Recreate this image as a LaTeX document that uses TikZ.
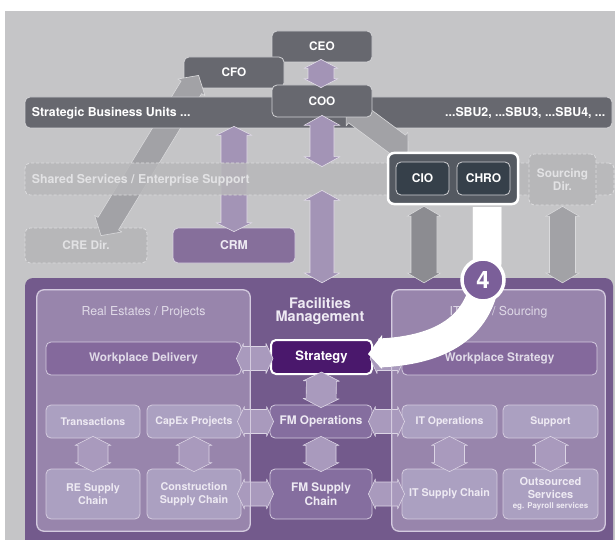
\documentclass[tikz,border=0pt]{standalone}
\usepackage{fontspec}
\setsansfont{TeX Gyre Heros}
\usetikzlibrary{calc}
\definecolor{bggrey}{HTML}{C5C5C7}
\definecolor{dkgrey}{HTML}{67686F}
\definecolor{dkline}{HTML}{D2D2D5}
\definecolor{ssfill}{HTML}{B7B7B9}
\definecolor{ssline}{HTML}{DDDDDF}
\definecolor{sstext}{HTML}{E2E2E4}
\definecolor{crmfill}{HTML}{866F9B}
\definecolor{crmline}{HTML}{D8D1E0}
\definecolor{purp}{HTML}{735A8C}
\definecolor{panel}{HTML}{9885AC}
\definecolor{panelline}{HTML}{D4CBDF}
\definecolor{wpfill}{HTML}{84699C}
\definecolor{smallfill}{HTML}{ABA0C1}
\definecolor{fmfill}{HTML}{856E9F}
\definecolor{stratfill}{HTML}{4A186C}
\definecolor{parr}{HTML}{A99ABD}
\definecolor{parrline}{HTML}{DCD5E5}
\definecolor{tarr}{HTML}{A394B6}
\definecolor{tarrline}{HTML}{E2DDE8}
\definecolor{garr}{HTML}{A2A2A6}
\definecolor{garrdk}{HTML}{8C8C91}
\definecolor{garrline}{HTML}{DADADC}
\definecolor{ciobg}{HTML}{545961}
\definecolor{ciofill}{HTML}{36404A}
\definecolor{circfill}{HTML}{7B5F99}
\definecolor{lighttext}{HTML}{EEEAF3}
\definecolor{paneltext}{HTML}{E0DAE8}

\newcommand\dblarr[6]{%
  \coordinate (dA) at #2; \coordinate (dB) at #3;
  \coordinate (dA1) at ($(dA)!#6!(dB)$);
  \coordinate (dB1) at ($(dB)!#6!(dA)$);
  \path[#1] (dA) -- ($(dA1)!#5!90:(dB)$) -- ($(dA1)!#4!90:(dB)$)
    -- ($(dB1)!#4!-90:(dA)$) -- ($(dB1)!#5!-90:(dA)$) -- (dB)
    -- ($(dB1)!#5!90:(dA)$) -- ($(dB1)!#4!90:(dA)$)
    -- ($(dA1)!#4!-90:(dB)$) -- ($(dA1)!#5!-90:(dB)$) -- cycle;}

\tikzset{
  box/.style={rounded corners=5pt, inner sep=0pt, align=center,
    font=\sffamily\bfseries\fontsize{11.8}{13.5}\selectfont},
  dkbox/.style={box, fill=dkgrey, draw=dkline, line width=0.8pt, text=white},
  dashbox/.style={box, fill=ssfill, draw=ssline, line width=0.8pt,
    dash pattern=on 3pt off 2pt, text=sstext},
  crmbox/.style={box, fill=crmfill, draw=crmline, line width=0.8pt, text=lighttext,
    font=\sffamily\bfseries\fontsize{12.2}{13.5}\selectfont},
  area/.style={fill=purp, rounded corners=8pt, inner sep=0pt},
  panelbox/.style={fill=panel, draw=panelline, line width=0.8pt, rounded corners=7pt, inner sep=0pt},
  ptitle/.style={inner sep=0pt, text=paneltext, font=\sffamily\fontsize{12.3}{14}\selectfont},
  wpbox/.style={box, fill=wpfill, draw=panelline, line width=0.8pt, text=paneltext},
  smallbox/.style={box, fill=smallfill, draw=panelline, line width=0.8pt, text=lighttext,
    font=\sffamily\bfseries\fontsize{10.5}{12.5}\selectfont},
  tallbox/.style={smallbox, font=\sffamily\bfseries\fontsize{10.7}{12.6}\selectfont},
  fmbox/.style={box, fill=fmfill, draw=panelline, line width=0.8pt, text=lighttext},
  stratbox/.style={box, fill=stratfill, draw=white, line width=2pt, text=white,
    font=\sffamily\bfseries\fontsize{13}{14}\selectfont},
  ciocont/.style={rounded corners=6pt, fill=ciobg, draw=white, line width=2.5pt, inner sep=0pt},
  ciobox/.style={box, fill=ciofill, draw=dkline, line width=0.8pt, text=white,
    font=\sffamily\bfseries\fontsize{12}{13.5}\selectfont},
  tarrow/.style={fill=tarr, draw=tarrline, line width=0.6pt, line join=round},
  parrow/.style={fill=parr, draw=parrline, line width=0.6pt, line join=round},
  garrow/.style={fill=garr, draw=garrline, line width=0.6pt, line join=round},
  garrowdk/.style={fill=garrdk, draw=garrline, line width=0.6pt, line join=round},
  lbl/.style={inner sep=0pt, font=\sffamily\bfseries\fontsize{12.3}{14}\selectfont}
}

\begin{document}
\begin{tikzpicture}[x=1pt,y=-1pt]
\useasboundingbox (0,0) rectangle (615,540);
\clip (0,0) rectangle (615,540);
\fill[white] (0,0) rectangle (615,540);
\fill[bggrey] (5,11) rectangle (615,540);

% ---- big purple FM area
\node[area, minimum width=588pt, minimum height=280pt] (org) at (319,418) {};

% ---- top executive boxes
\node[dkbox, minimum width=100pt, minimum height=31pt] (ceo) at (322,46.5) {CEO};
\node[dkbox, minimum width=100pt, minimum height=31pt] (cfo) at (234,72.5) {CFO};

% CRE Dir
\node[dashbox, minimum width=122pt, minimum height=35pt] (cre) at (86,245.5) {CRE Dir.};

% CFO <-> CRE diagonal
\dblarr{garrow}{($(cfo.south west)+(15,-13)$)}{($(cre.north)+(15,8)$)}{12pt}{16pt}{14pt}

% SBU bar
\node[dkbox, minimum width=587pt, minimum height=31pt] (sbu) at (318.5,112.5) {};
\node[lbl, text=white, anchor=west] (sbul) at ($(sbu.west)+(7,1)$) {Strategic Business Units ...};
\node[lbl, text=white, anchor=east] (sbur) at ($(sbu.east)+(-7,1)$) {...SBU2, ...SBU3, ...SBU4, ...};

% CIO container corner (arrow target)
\coordinate (ciotl) at (388,153);

% COO <-> CIO diagonal
\dblarr{garrow}{(346,106)}{($(ciotl)+(20,-1)$)}{12pt}{16pt}{12pt}

\node[dkbox, minimum width=100pt, minimum height=32pt] (coo) at (322,101) {COO};

% CEO <-> COO
\dblarr{tarrow}{($(ceo.south)+(-1,-3)$)}{($(coo.north)+(-1,3)$)}{13pt}{17pt}{9pt}

% CRM
\node[crmbox, minimum width=122pt, minimum height=35pt] (crm) at (234,245.5) {CRM};

% CRM arrow (under the translucent shared-services bar)
\dblarr{tarrow}{($(crm.north |- sbu.south)+(0,-2)$)}{($(crm.north)+(0,4)$)}{13pt}{18pt}{9pt}

% Shared services bar
\node[dashbox, fill opacity=0.85, minimum width=589pt, minimum height=32pt] (ss) at (319.5,179) {};
\node[lbl, text=sstext, anchor=west] (sst) at ($(ss.west)+(7,1)$) {Shared Services / Enterprise Support};

% COO <-> Shared, Shared <-> FM
\dblarr{tarrow}{($(coo.south)+(0,-2)$)}{($(coo.south |- ss.north)+(0,4)$)}{12pt}{18pt}{10pt}
\dblarr{tarrow}{($(coo.south |- ss.south)+(0,-5)$)}{($(coo.south |- org.north)+(0,5)$)}{12pt}{18pt}{10pt}

% CIO / CHRO
\node[ciocont, minimum width=130pt, minimum height=51pt] (cbox) at (453,178.5) {};
\node[ciobox, minimum width=53pt, minimum height=33pt] (cio) at (422.5,178.5) {CIO};
\node[ciobox, minimum width=53pt, minimum height=33pt] (chro) at (483.5,178.5) {CHRO};

% Sourcing Dir
\node[dashbox, minimum width=67pt, minimum height=51pt] (src) at (562.5,179.5) {Sourcing\\Dir.};

% grey arrows down
\dblarr{garrowdk}{($(cio.south |- cbox.south)+(1.5,1)$)}{($(cio.south |- org.north)+(1.5,5)$)}{13pt}{17pt}{10pt}
\dblarr{garrow}{($(src.south)+(0,1)$)}{($(src.south |- org.north)+(0,5)$)}{13pt}{17pt}{10pt}

% ---- inside FM area
\node[panelbox, minimum width=213pt, minimum height=241pt] (lp) at (143.5,410.5) {};
\node[panelbox, minimum width=213pt, minimum height=241pt] (rp) at (498.5,410.5) {};
\node[ptitle] (lpt) at (143.5,312) {Real Estates / Projects};
\node[ptitle] (rpt) at (498.5,312) {IT / HR / Sourcing};
\node[lbl, text=lighttext, align=center, font=\sffamily\bfseries\fontsize{14.5}{13}\selectfont] (fmt) at (320,311) {Facilities\\Management};

\node[wpbox, minimum width=195pt, minimum height=33pt] (wd) at (143.5,358.5) {Workplace Delivery};
\node[stratbox, minimum width=101pt, minimum height=34pt] (strat) at (321.5,357) {Strategy};
\node[wpbox, minimum width=195pt, minimum height=33pt] (ws) at (499.5,358.5) {Workplace Strategy};

\node[smallbox, minimum width=94pt, minimum height=33pt] (trans) at (93,421.5) {Transactions};
\node[smallbox, minimum width=94pt, minimum height=33pt] (capex) at (194,421.5) {CapEx Projects};
\node[fmbox, minimum width=102pt, minimum height=33pt] (fmops) at (321,421.5) {FM Operations};
\node[smallbox, minimum width=95pt, minimum height=33pt] (itops) at (449.5,421.5) {IT Operations};
\node[smallbox, minimum width=95pt, minimum height=33pt] (sup) at (550.5,421.5) {Support};

\node[tallbox, minimum width=94pt, minimum height=50pt] (resc) at (93,494) {RE Supply\\Chain};
\node[tallbox, minimum width=94pt, minimum height=50pt] (csc) at (194,494) {Construction\\Supply Chain};
\node[fmbox, minimum width=102pt, minimum height=50pt] (fmsc) at (321,494) {FM Supply\\Chain};
\node[tallbox, minimum width=95pt, minimum height=50pt] (itsc) at (449.5,494) {IT Supply Chain};
\node[tallbox, minimum width=95pt, minimum height=50pt, font=\sffamily\bfseries\fontsize{11}{12.5}\selectfont] (outs) at (550.5,494) {Outsourced\\Services\\[-2pt]{\fontsize{8}{9}\selectfont eg. Payroll services}};

% horizontal arrows
\dblarr{parrow}{($(wd.east)+(-5,0)$)}{($(wd.east -| strat.west)+(3,0)$)}{12pt}{15pt}{7pt}
\dblarr{parrow}{($(ws.west -| strat.east)+(-3,0)$)}{($(ws.west)+(3,0)$)}{12pt}{15pt}{7pt}
\dblarr{parrow}{($(capex.east)+(-4,0)$)}{($(fmops.west)+(4,0)$)}{12pt}{15pt}{7pt}
\dblarr{parrow}{($(fmops.east)+(-4,0)$)}{($(itops.west)+(3,0)$)}{12pt}{15pt}{7pt}
\dblarr{parrow}{($(csc.east)+(-4,0)$)}{($(fmsc.west)+(4,0)$)}{12pt}{15pt}{7pt}
\dblarr{parrow}{($(fmsc.east)+(-4,0)$)}{($(itsc.west)+(3,0)$)}{12pt}{15pt}{7pt}
% vertical arrows
\dblarr{parrow}{($(strat.south)+(0,-3)$)}{($(fmops.north)+(0,3)$)}{15pt}{18pt}{9pt}
\dblarr{parrow}{($(trans.south)+(0,-2)$)}{($(resc.north)+(0,3)$)}{15pt}{18pt}{9pt}
\dblarr{parrow}{($(capex.south)+(0,-2)$)}{($(csc.north)+(0,3)$)}{15pt}{18pt}{9pt}
\dblarr{parrow}{($(fmops.south)+(0,-2)$)}{($(fmsc.north)+(0,3)$)}{15pt}{18pt}{9pt}
\dblarr{parrow}{($(itops.south)+(0,-2)$)}{($(itsc.north)+(0,3)$)}{15pt}{18pt}{9pt}
\dblarr{parrow}{($(sup.south)+(0,-2)$)}{($(outs.north)+(0,3)$)}{15pt}{18pt}{9pt}

% panel borders on top of arrows
\draw[panelline, line width=0.8pt, rounded corners=7pt] (lp.north west) rectangle (lp.south east);
\draw[panelline, line width=0.8pt, rounded corners=7pt] (rp.north west) rectangle (rp.south east);

% ---- white callout arrow from CHRO to Strategy
\coordinate (bs) at ($(chro.south |- cbox.south)+(3.5,1.5)$);
\coordinate (be) at ($(strat.east)+(6,-4)$);
\coordinate (bt) at ($(strat.east)+(-5,-3)$);
\draw[black, opacity=0.18, line width=29pt, shift={(2.5,2)}] (bs) -- ++(0,57) .. controls +(-2,60) and +(67,-3) .. (be);
\draw[white, line width=29pt] (bs) -- ++(0,57) .. controls +(-2,60) and +(67,-3) .. (be);
\fill[white] (bt) -- ($(be)+(3,-18)$) -- ($(be)+(3,16)$) -- cycle;

\node[circle, fill=circfill, draw=white, line width=3.5pt, minimum size=42pt, inner sep=0pt,
  text=white, font=\sffamily\bfseries\fontsize{24}{24}\selectfont] (four) at (483,280) {4};
\end{tikzpicture}
\end{document}
